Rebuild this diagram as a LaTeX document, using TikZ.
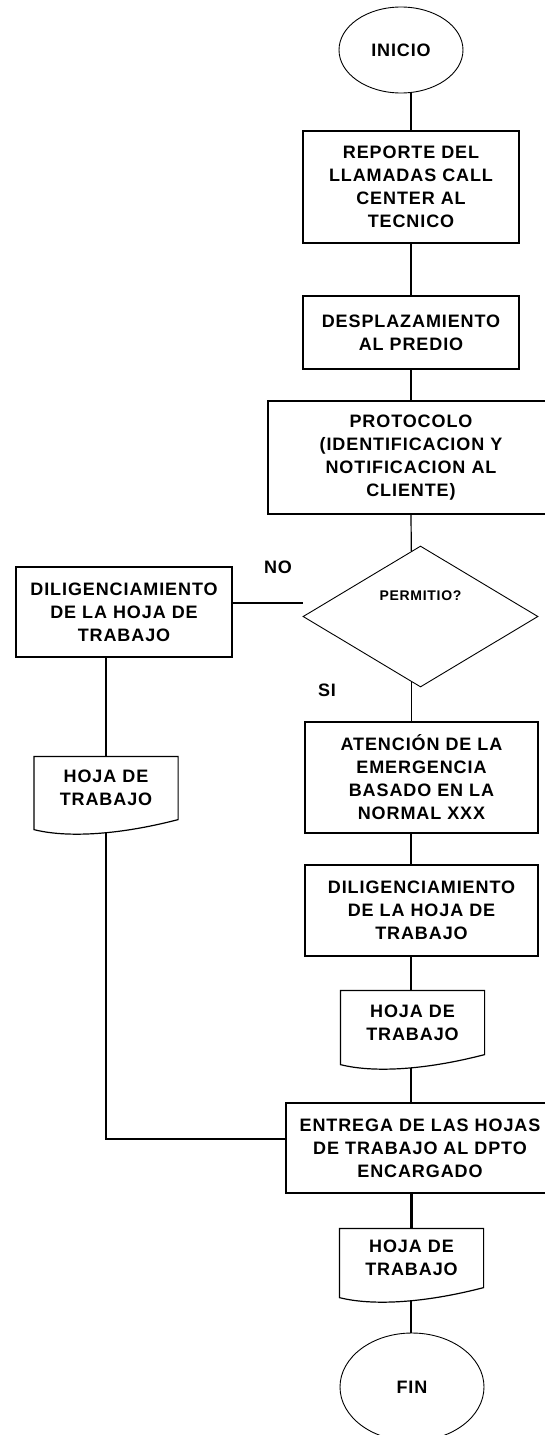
\documentclass[tikz,border=0pt]{standalone}
\usepackage{fontspec}
\newfontfamily\flujo{Liberation Sans}[LetterSpace=5]
\usetikzlibrary{shapes.geometric}

\begin{document}
\begin{tikzpicture}
		[x=1pt,y=-1pt,line width=1.2pt,
		font=\flujo\bfseries\fontsize{18}{23}\selectfont,
		caja/.style={rectangle,draw,inner sep=0pt,align=center},
		hoja/.style={rectangle,inner sep=0pt,align=center,minimum width=143pt,text width=135pt},
		borde/.style={draw,line width=0.9pt,inner sep=0pt}]
		\useasboundingbox (0,0) rectangle (545,1435);
		\node[ellipse,borde,minimum width=124pt,minimum height=86pt] (r0) at (401,50) {INICIO};
		\node[caja,text width=208pt,minimum width=216pt,minimum height=112pt] (r1) at (411,187) {REPORTE DEL\\ LLAMADAS CALL\\ CENTER AL\\ TECNICO};
		\node[caja,text width=208pt,minimum width=216pt,minimum height=73pt] (r2) at (411,332.5) {DESPLAZAMIENTO\\ AL PREDIO};
		\node[caja,text width=270pt,minimum width=286pt,minimum height=113pt] (r3) at (411,457.5) {PROTOCOLO\\ (IDENTIFICACION Y\\ NOTIFICACION AL\\ CLIENTE)};
		\node[diamond,borde,aspect=1.667,minimum width=235pt,minimum height=141pt,font=\flujo\bfseries\fontsize{14}{17}\selectfont,text height=10pt,text depth=43pt] (r4) at (420.5,616.5) {PERMITIO?};
		\node[caja,text width=210pt,minimum width=216pt,minimum height=90pt] (r5) at (124,612) {DILIGENCIAMIENTO\\ DE LA HOJA DE\\ TRABAJO};
		\node[hoja,minimum height=62pt] (r6) at (106,788) {HOJA DE\\ TRABAJO};
		\node[caja,text width=225pt,minimum width=233pt,minimum height=111pt] (r7) at (421.5,777.5) {ATENCIÓN DE LA\\ EMERGENCIA\\ BASADO EN LA\\ NORMAL XXX};
		\node[caja,text width=225pt,minimum width=233pt,minimum height=91pt] (r8) at (421.5,910.5) {DILIGENCIAMIENTO\\ DE LA HOJA DE\\ TRABAJO};
		\node[hoja,minimum height=63pt] (r9) at (412.5,1022.5) {HOJA DE\\ TRABAJO};
		\node[caja,text width=260pt,minimum width=268pt,minimum height=90pt] (r10) at (420,1148) {ENTREGA DE LAS HOJAS\\ DE TRABAJO AL DPTO\\ ENCARGADO};
		\node[hoja,minimum height=58pt] (r11) at (411.5,1258) {HOJA DE\\ TRABAJO};
		\node[ellipse,borde,minimum width=144pt,minimum height=108pt] (r12) at (412,1387) {FIN};
		\node (lno) at (278,567) {NO};
		\node (lsi) at (327,690) {SI};
		
		% hojas de trabajo
		\foreach \h in {r6,r9,r11}
		\draw (\h.north west) -- (\h.north east) -- (\h.south east)
		.. controls ([xshift=-61.5pt,yshift=-16pt]\h.south east) and ([xshift=31.5pt,yshift=-18pt]\h.south west) .. ([yshift=-10pt]\h.south west) -- cycle;
		
		\coordinate (c1) at ([yshift=9pt]r5.east);
		\coordinate (c2) at ([yshift=9pt]r10.west);
		
		\draw (r1.north) -- (r1.north |- r0.south);
		\path (r1) edge (r2);
		\path (r2) edge (r3);
		\draw (r3.south) -- (r4.98);
		\draw (r4.262) -- (r4.262 |- r7.north);
		\draw (c1) -- (c1 -| r4.west);
		\draw (r6.north) -- (r6.north |- r5.south);
		\draw (r6.south) ++(0,13) |- (c2);
		\draw (r7.south -| r1) -- (r8.north -| r1);
		\draw (r8.south -| r1) -- (r9.north -| r1);
		\draw (r9.south -| r1) ++(0,13) -- (r10.north -| r1);
		\draw[line width=3pt] (r10.south -| r1) -- (r11.north -| r1);
		\draw (r11.south -| r1) ++(0,13) -- (r12.north -| r1);
		
	\end{tikzpicture}
\end{document}
